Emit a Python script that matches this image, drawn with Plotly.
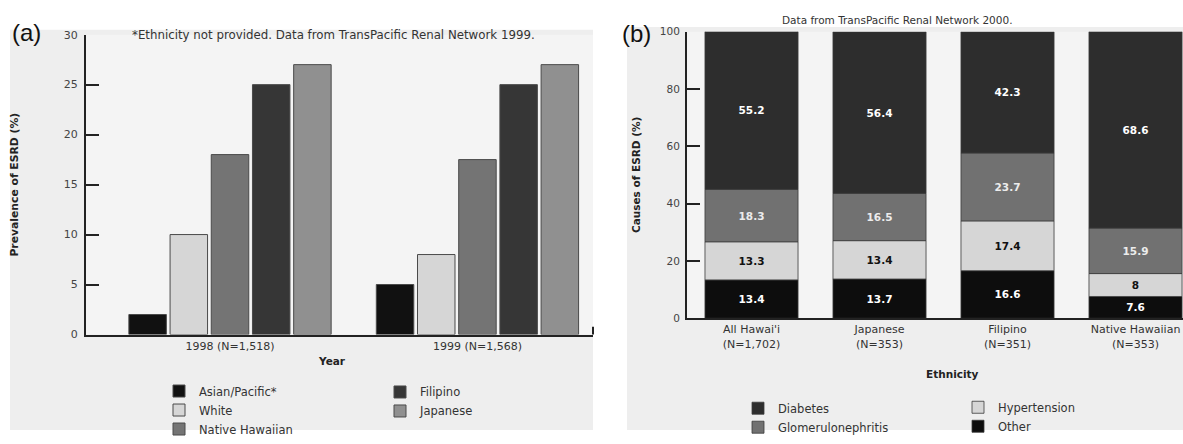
import numpy as np
import plotly.graph_objects as go

W, H = 1183, 444

# Panel (a): prevalence of ESRD (%) by ethnicity, per year
years = ["1998 (N=1,518)", "1999 (N=1,568)"]
asian_pacific = [2, 5]
white = [10, 8]
native_hawaiian = [18, 17.5]
filipino = [25, 25]
japanese = [27, 27]
prev_ticks = [0, 5, 10, 15, 20, 25, 30]

# Panel (b): causes of ESRD (%) by ethnicity, stacked bottom to top
groups = ["All Hawai'i<br>(N=1,702)", "Japanese<br>(N=353)",
          "Filipino<br>(N=351)", "Native Hawaiian<br>(N=353)"]
other = [13.4, 13.7, 16.6, 7.6]
hypertension = [13.3, 13.4, 17.4, 8]
glomerulonephritis = [18.3, 16.5, 23.7, 15.9]
diabetes = [55.2, 56.4, 42.3, 68.6]
cause_ticks = [0, 20, 40, 60, 80, 100]

FONT = "DejaVu Sans"
INK = "#222222"


def px(x):
    return x / W


def py(y):
    return 1 - y / H


fig = go.Figure()

# ---- panel (a): grouped bars
xa = list(range(len(years)))
series_a = [
    ("Asian/Pacific*", asian_pacific, "#111111", "legend"),
    ("White", white, "#d6d6d6", "legend"),
    ("Native Hawaiian", native_hawaiian, "#747474", "legend"),
    ("Filipino", filipino, "#363636", "legend2"),
    ("Japanese", japanese, "#909090", "legend2"),
]
for name, vals, color, leg in series_a:
    fig.add_trace(go.Bar(
        x=xa, y=vals, name=name, legend=leg,
        marker=dict(color=color, line=dict(color="#4a4a4a", width=1)),
        xaxis="x", yaxis="y",
    ))

# ---- panel (b): stacked bars built from running totals
xb = list(range(len(groups)))
series_b = [
    ("Other", other, "#0d0d0d", "#ffffff", "legend4"),
    ("Hypertension", hypertension, "#d6d6d6", "#111111", "legend4"),
    ("Glomerulonephritis", glomerulonephritis, "#717171", "#ececec", "legend3"),
    ("Diabetes", diabetes, "#2d2d2d", "#ffffff", "legend3"),
]
base = np.zeros(len(groups))
for name, vals, color, tcolor, leg in series_b:
    fig.add_trace(go.Bar(
        x=xb, y=vals, base=base.copy(), name=name, legend=leg,
        width=0.727, offsetgroup="causes",
        marker=dict(color=color, line=dict(color="#3a3a3a", width=0.8)),
        text=[f"{v:g}" for v in vals], textposition="inside",
        insidetextanchor="middle", textangle=0,
        textfont=dict(family=FONT, size=10.5, color=tcolor, weight="bold"),
        xaxis="x2", yaxis="y2",
    ))
    base = base + np.array(vals, dtype=float)

axis_common = dict(showgrid=False, zeroline=False, showline=True,
                   linecolor=INK, linewidth=2, fixedrange=True)

legend_common = dict(orientation="v", bgcolor="rgba(0,0,0,0)",
                     xanchor="left", yanchor="top",
                     font=dict(family=FONT, size=11.5, color="#333333"))

fig.update_layout(
    width=W, height=H,
    margin=dict(l=0, r=0, t=0, b=0),
    paper_bgcolor="white", plot_bgcolor="rgba(0,0,0,0)",
    font=dict(family=FONT, size=11, color=INK),
    barmode="group", bargap=0.1675, bargroupgap=0.09,
    showlegend=True,
    xaxis=dict(axis_common, domain=[px(86), px(593)], range=[-0.582, 1.467],
               tickvals=xa, ticktext=years, ticks="", anchor="y",
               tickfont=dict(size=11, color="#333333")),
    yaxis=dict(axis_common, domain=[py(344), py(30)], range=[0, 30],
               tickvals=prev_ticks, ticks="inside", ticklen=13, tickwidth=2,
               tickcolor=INK, anchor="x", ticklabelstandoff=4,
               tickfont=dict(size=11, color="#444444")),
    xaxis2=dict(axis_common, domain=[px(687), 1.0], range=[-0.504, 3.371],
                tickvals=xb, ticktext=groups, ticks="", anchor="y2",
                tickfont=dict(size=11, color="#333333")),
    yaxis2=dict(axis_common, domain=[py(327), py(27)], range=[0, 100],
                tickvals=cause_ticks, ticks="inside", ticklen=13, tickwidth=2,
                tickcolor=INK, anchor="x2", ticklabelstandoff=3,
                tickfont=dict(size=10.5, color="#444444")),
    legend=dict(legend_common, x=px(159), y=py(388), traceorder="normal"),
    legend2=dict(legend_common, x=px(380), y=py(389), traceorder="normal"),
    legend3=dict(legend_common, x=px(738), y=py(406), traceorder="reversed"),
    legend4=dict(legend_common, x=px(958), y=py(405), traceorder="reversed"),
)

# panel backgrounds
fig.add_shape(type="rect", xref="paper", yref="paper", layer="below",
              x0=px(10), x1=px(593), y0=0, y1=py(25),
              fillcolor="#eeeeee", line=dict(width=0))
fig.add_shape(type="rect", xref="paper", yref="paper", layer="below",
              x0=px(627), x1=1.0, y0=0, y1=py(22),
              fillcolor="#eeeeee", line=dict(width=0))
fig.add_shape(type="rect", xref="x domain", yref="y domain", layer="below",
              x0=0, x1=1, y0=0, y1=1, fillcolor="#f4f4f4", line=dict(width=0))
fig.add_shape(type="rect", xref="x2 domain", yref="y2 domain", layer="below",
              x0=0, x1=1, y0=0, y1=1, fillcolor="#f4f4f4", line=dict(width=0))
# end mark on the x axis of panel (a)
fig.add_shape(type="line", xref="x domain", yref="paper",
              x0=1, x1=1, y0=py(344), y1=py(336),
              line=dict(color=INK, width=2))

annotations = [
    dict(text="(a)", x=px(10), y=py(28), xanchor="left", yanchor="middle",
         font=dict(family="Liberation Sans", size=24, color="#111111")),
    dict(text="(b)", x=px(620), y=py(29), xanchor="left", yanchor="middle",
         font=dict(family="Liberation Sans", size=24, color="#111111")),
    dict(text="*Ethnicity not provided. Data from TransPacific Renal Network 1999.",
         x=px(130), y=py(30), xanchor="left", yanchor="middle",
         font=dict(size=11.8, color="#333333")),
    dict(text="Data from TransPacific Renal Network 2000.",
         x=px(780), y=py(15), xanchor="left", yanchor="middle",
         font=dict(size=10.5, color="#333333")),
    dict(text="<b>Prevalence of ESRD (%)</b>", x=px(15), y=py(187),
         xanchor="center", yanchor="middle", textangle=-90,
         font=dict(size=10.8, color=INK)),
    dict(text="<b>Causes of ESRD (%)</b>", x=px(636), y=py(177),
         xanchor="center", yanchor="middle", textangle=-90,
         font=dict(size=10.5, color=INK)),
    dict(text="<b>Year</b>", x=px(332), y=py(372),
         xanchor="center", yanchor="middle", font=dict(size=10.5, color=INK)),
    dict(text="<b>Ethnicity</b>", x=px(952), y=py(385),
         xanchor="center", yanchor="middle", font=dict(size=10.5, color=INK)),
]
for a in annotations:
    fig.add_annotation(xref="paper", yref="paper", showarrow=False, **a)

fig.write_html("out.html")
